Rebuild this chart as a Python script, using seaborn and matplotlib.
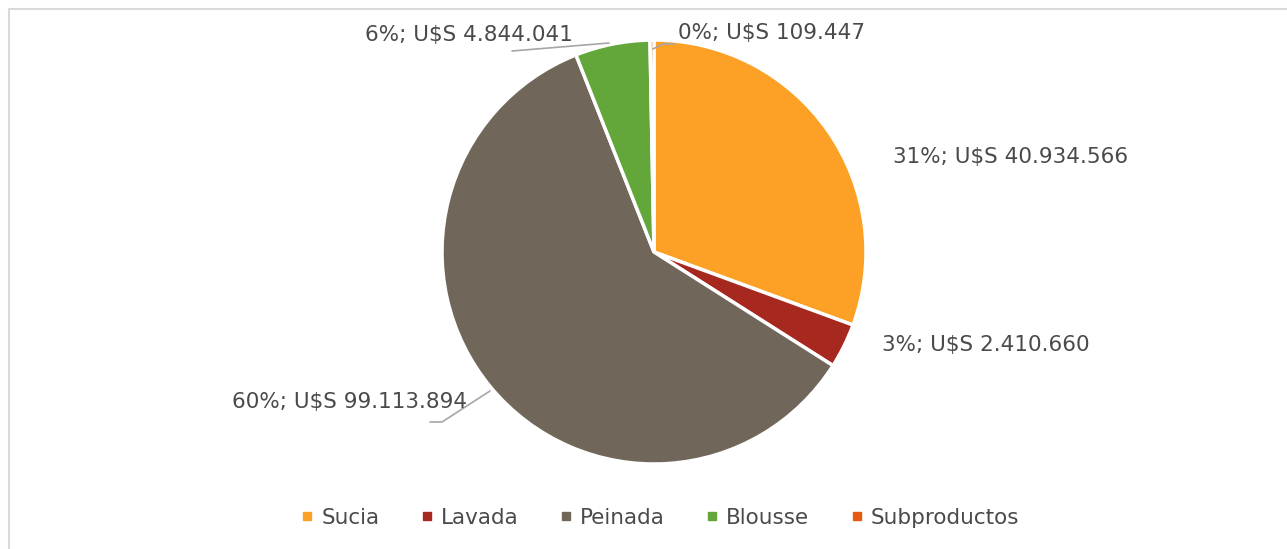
import matplotlib
matplotlib.use("Agg")
import matplotlib.pyplot as plt
from matplotlib.lines import Line2D
import seaborn as sns

# ---- data ----
categories = ["Sucia", "Lavada", "Peinada", "Blousse", "Subproductos"]
shares = [30.6, 3.4, 60.0, 5.7, 0.3]          # slice sizes as drawn (%)
pct_labels = [31, 3, 60, 6, 0]                 # percentages shown in labels
usd_values = ["40.934.566", "2.410.660", "99.113.894", "4.844.041", "109.447"]
colors = ["#FDA026", "#A7281F", "#70675A", "#63A63A", "#E65A10"]

sns.set_theme(style="white")
plt.rcParams["font.family"] = ["DejaVu Sans"]
TXT = "#4A4A4A"

W, H = 1287, 549
fig = plt.figure(figsize=(W / 100, H / 100), dpi=100)
ax = fig.add_axes([0, 0, 1, 1])

def py(y):
    return H - y

cx, cy, r = 654, 252, 212
wedges, _ = ax.pie(shares, colors=colors, startangle=90, counterclock=False,
                   center=(cx, py(cy)), radius=r,
                   wedgeprops=dict(edgecolor="white", linewidth=2.5))
ax.set_xlim(0, W)
ax.set_ylim(0, H)
ax.set_aspect("equal")
ax.axis("off")

labels = [f"{p}%; U$S {v}" for p, v in zip(pct_labels, usd_values)]
fs = 15.5
# label placement (pixel positions) : (x, y, ha)
pos = [(893, 157, "left"), (882, 345, "left"), (467, 402, "right"),
       (573, 35, "right"), (678, 33, "left")]
for lab, (x, y, ha) in zip(labels, pos):
    ax.text(x, py(y), lab, fontsize=fs, color=TXT, ha=ha, va="center")

lc = "#A6A6A6"
ax.plot([490, 442, 430], [py(391), py(422), py(422)], color=lc, lw=1.2)
ax.plot([512, 609], [py(51), py(43)], color=lc, lw=1.2)
ax.plot([653, 663, 674], [py(49), py(44), py(44)], color=lc, lw=1.2)

# figure border (top and left)
bc = "#D9D9D9"
fig.add_artist(Line2D([9 / W, 1.0], [1 - 9 / H, 1 - 9 / H], color=bc, lw=1.5))
fig.add_artist(Line2D([9 / W, 9 / W], [1 - 9 / H, 0], color=bc, lw=1.5))

handles = [Line2D([], [], marker="s", linestyle="none", markersize=6,
                  markerfacecolor=c, markeredgecolor=c) for c in colors]
leg = fig.legend(handles, categories, loc="center", bbox_to_anchor=(660 / W, 1 - 518 / H),
                 ncol=5, frameon=False, fontsize=fs, handlelength=0.6,
                 handletextpad=0.35, columnspacing=1.9, labelcolor=TXT)

fig.savefig("out.png", dpi=100)
